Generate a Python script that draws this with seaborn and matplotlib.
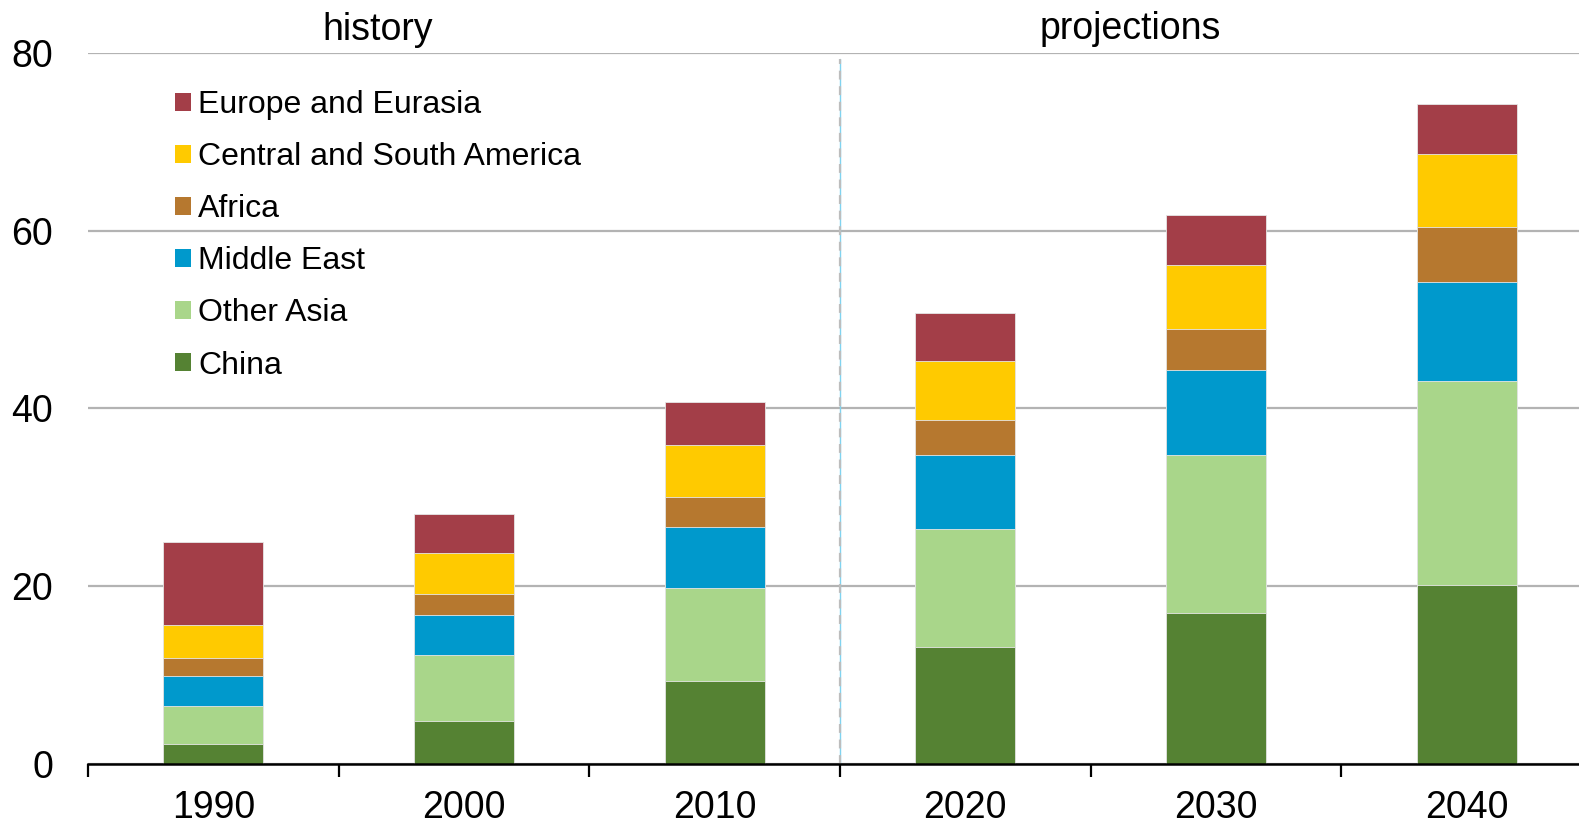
import numpy as np
import pandas as pd
import matplotlib
matplotlib.use("Agg")
import matplotlib.pyplot as plt
import seaborn as sns

years = ["1990", "2000", "2010", "2020", "2030", "2040"]
china = [2.2, 4.8, 9.3, 13.1, 16.9, 20.1]
other_asia = [4.3, 7.4, 10.5, 13.3, 17.9, 23.0]
middle_east = [3.4, 4.5, 6.8, 8.4, 9.5, 11.2]
africa = [2.0, 2.4, 3.4, 3.9, 4.7, 6.1]
central_south_america = [3.7, 4.6, 5.9, 6.6, 7.2, 8.3]
europe_eurasia = [9.4, 4.4, 4.8, 5.5, 5.6, 5.6]

regions = ["China", "Other Asia", "Middle East", "Africa",
           "Central and South America", "Europe and Eurasia"]
values = [china, other_asia, middle_east, africa,
          central_south_america, europe_eurasia]
colors = ["#558233", "#A9D68A", "#0099CC", "#B6782F", "#FFCA00", "#A33E48"]

df = pd.DataFrame({name: vals for name, vals in zip(regions, values)}, index=years)
cum = df.cumsum(axis=1)

sns.set_theme(style="white")
plt.rcParams["font.family"] = ["Liberation Sans", "DejaVu Sans"]
plt.rcParams["text.color"] = "black"

fig = plt.figure(figsize=(15.79, 8.26), dpi=100)
ax = fig.add_axes([88 / 1579, 1 - 763.5 / 826, 1504 / 1579, (763.5 - 53.4) / 826])

# Stack by drawing cumulative totals from the top layer down
for name, color in reversed(list(zip(regions, colors))):
    plot_df = pd.DataFrame({"year": years, "total": cum[name].values})
    sns.barplot(data=plot_df, x="year", y="total", color=color, width=0.4,
                saturation=1, edgecolor="#e6e6e6", linewidth=0.6, ax=ax,
                label=name, zorder=3)

ax.set_ylim(0, 80)
ax.set_xlim(-0.5, len(years) - 0.5)
ax.set_yticks([0, 20, 40, 60, 80])
ax.yaxis.grid(True, color="#B3B3B3", linewidth=1.6)
ax.set_axisbelow(True)
ax.set_xlabel("")
ax.set_ylabel("")

for side in ["top", "right", "left"]:
    ax.spines[side].set_visible(False)
ax.spines["bottom"].set_color("black")
ax.spines["bottom"].set_linewidth(1.8)
ax.spines["bottom"].set_zorder(5)

ax.tick_params(axis="y", length=0, labelsize=27, pad=25, labelcolor="black")
ax.tick_params(axis="x", which="major", bottom=True, length=0, labelsize=27, pad=19,
               labelcolor="black")
ax.set_xticks(np.arange(-0.5, len(years) + 0.5, 1.0), minor=True)
ax.tick_params(axis="x", which="minor", bottom=True, direction="out", length=9,
               width=1.6, color="black")

# Divider between historical data and projections
ax.axvline(2.5, ymax=0.992, color="#7FD3F0", linewidth=1.0, zorder=2)
ax.axvline(2.5, ymax=0.992, color="#BDBDBD", linewidth=1.6, linestyle=(0, (4, 3)), zorder=2)

ax.text(0.655, 82.6, "history", ha="center", va="center", fontsize=27, clip_on=False)
ax.text(3.66, 82.8, "projections", ha="center", va="center", fontsize=27, clip_on=False)

h, l = ax.get_legend_handles_labels()
leg = ax.legend(h, l, loc="upper left", bbox_to_anchor=(0.058, 0.948), frameon=False,
                fontsize=23, handlelength=0.5, handleheight=0.5, handletextpad=0.22,
                labelspacing=0.69, borderpad=0, borderaxespad=0)
for patch in leg.get_patches():
    patch.set_edgecolor("none")

fig.savefig("out.png", dpi=100)
